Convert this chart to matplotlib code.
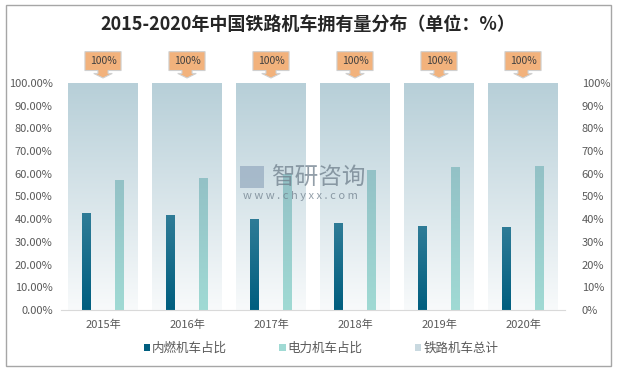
import numpy as np
import matplotlib
matplotlib.use("Agg")
import matplotlib.pyplot as plt
from matplotlib.patches import Rectangle, Polygon
from matplotlib.colors import LinearSegmentedColormap
from matplotlib.ticker import FuncFormatter

plt.rcParams['font.family'] = ['Noto Sans CJK SC', 'DejaVu Sans']

years = ["2015年", "2016年", "2017年", "2018年", "2019年", "2020年"]
diesel = [42.7, 41.9, 40.1, 38.3, 37.0, 36.6]     # 内燃机车占比 (%)
electric = [57.3, 58.1, 59.9, 61.7, 63.0, 63.4]   # 电力机车占比 (%)
total = [100, 100, 100, 100, 100, 100]            # 铁路机车总计 (%)
title = "2015-2020年中国铁路机车拥有量分布（单位：%）"
legend_labels = ["内燃机车占比", "电力机车占比", "铁路机车总计"]

W, H = 619, 370
fig = plt.figure(figsize=(W / 100, H / 100), dpi=100)
ax = fig.add_axes([61 / W, 1 - 310 / H, (565 - 61) / W, (310 - 83) / H])

x = np.arange(len(years))
txt = '#595959'

def grad_bars(xs, vals, width, top, bottom, label, zorder):
    cmap = LinearSegmentedColormap.from_list('g', [bottom, top])
    bars = ax.bar(xs, vals, width, color='none', edgecolor='none', label=label, zorder=zorder)
    grad = np.linspace(0, 1, 256).reshape(-1, 1)
    for b in bars:
        im = ax.imshow(grad, cmap=cmap, origin='lower', aspect='auto',
                       extent=(b.get_x(), b.get_x() + b.get_width(), 0, b.get_height()),
                       zorder=zorder)
        im.set_clip_path(b)
    return bars

tot = np.array(total) / 100
b_tot = grad_bars(x, tot, 70 / 84, '#b7cfd8', '#f8fafb', legend_labels[2], 1)
b_die = grad_bars(x - 0.2, np.array(diesel) / 100, 9 / 84, '#2f7c97', '#005e7f', legend_labels[0], 2)
b_ele = grad_bars(x + 0.2, np.array(electric) / 100, 9 / 84, '#93c1c6', '#a0dad4', legend_labels[1], 2)

ax.set_xlim(-0.5, len(years) - 0.5)
ax.set_ylim(0, 1)
ax.set_yticks(np.linspace(0, 1, 11))
ax.yaxis.set_major_formatter(FuncFormatter(lambda v, p: f"{v*100:.2f}%"))
ax.set_xticks(x)
ax.set_xticklabels(years)
for s in ['top', 'left', 'right']:
    ax.spines[s].set_visible(False)
ax.spines['bottom'].set_color('#d9d9d9')
ax.tick_params(axis='both', length=0, labelsize=8, colors=txt)
ax.tick_params(axis='x', pad=7)
ax.tick_params(axis='y', pad=6)

ax2 = ax.twinx()
ax2.set_ylim(0, 1)
ax2.set_yticks(np.linspace(0, 1, 11))
ax2.yaxis.set_major_formatter(FuncFormatter(lambda v, p: f"{v*100:.0f}%"))
for s in ['top', 'left', 'right', 'bottom']:
    ax2.spines[s].set_visible(False)
ax2.tick_params(axis='y', length=0, labelsize=8, colors=txt, pad=12)

# callouts
for xi, t in zip(x, tot):
    tip = t + 0.022
    bx0, bx1 = xi - 0.215, xi + 0.215
    by0, by1 = t + 0.055, t + 0.138
    poly = Polygon([(bx0, by0), (bx0, by1), (bx1, by1), (bx1, by0),
                    (xi + 0.06, by0), (xi + 0.06, t + 0.042), (xi + 0.11, t + 0.042),
                    (xi, tip), (xi - 0.11, t + 0.042), (xi - 0.06, t + 0.042),
                    (xi - 0.06, by0)],
                   closed=True, facecolor='#f2b27c', edgecolor='#d0d0d0', lw=0.8,
                   clip_on=False, zorder=5)
    ax.add_patch(poly)
    ax.text(xi, (by0 + by1) / 2, f"{t*100:.0f}%", ha='center', va='center',
            fontsize=7.5, color='#404040', zorder=6, clip_on=False)

# watermark
fig.text(318 / W, 1 - 178 / H, "智研咨询", ha='center', va='center', fontsize=17,
         color='#6f7f8c', alpha=0.75, zorder=10)
fig.text(300 / W, 1 - 196 / H, "w w w . c h y x x . c o m", ha='center', va='center',
         fontsize=8, color='#6f7f8c', alpha=0.75, zorder=10)
fig.patches.append(Rectangle((240 / W, 1 - 188 / H), 24 / W, 22 / H, transform=fig.transFigure,
                             facecolor='#8aa0b8', alpha=0.6, edgecolor='none', zorder=10))

fig.text(308 / W, 1 - 24 / H, title, ha='center', va='center', fontsize=13,
         fontweight='bold', color='#262626')

leg = ax.legend([b_die, b_ele, b_tot], legend_labels, loc='center',
                bbox_to_anchor=(321 / W, 1 - 348 / H), bbox_transform=fig.transFigure,
                ncol=3, frameon=False, fontsize=9, handlelength=0.5, handleheight=0.5,
                handletextpad=0.15, columnspacing=4.2, labelcolor=txt)
leg_colors = ['#005e7f', '#a0dad4', '#c9d9e0']
for h, c in zip(leg.legend_handles, leg_colors):
    h.set_facecolor(c)

fig.patches.append(Rectangle((6 / W, 1 - 366 / H), 605 / W, 361 / H, transform=fig.transFigure,
                             facecolor='none', edgecolor='#a6a6a6', lw=1.0))

fig.savefig("out.png", dpi=100)
